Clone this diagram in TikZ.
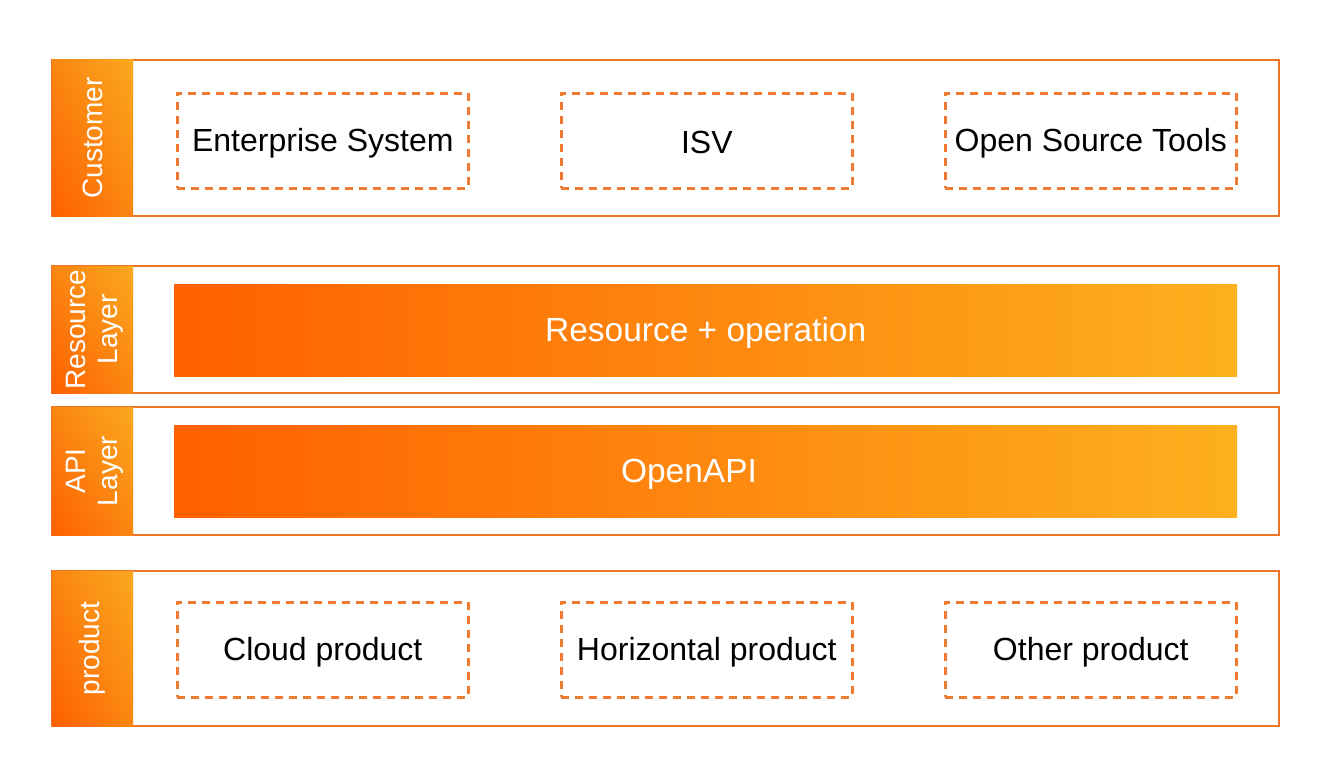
\documentclass[tikz,border=0pt]{standalone}
\usepackage{fontspec}
\setmainfont{Liberation Sans}
\usetikzlibrary{shadings}
\definecolor{frame}{HTML}{EE7428}
\definecolor{dash}{HTML}{EE7C30}
\definecolor{tagY}{HTML}{FBA81E}
\definecolor{tagM}{HTML}{FA8612}
\definecolor{tagO}{HTML}{FF6000}
\definecolor{barL}{HTML}{FF6000}
\definecolor{barR}{HTML}{FDB01E}
\begin{document}
\begin{tikzpicture}[x=1pt,y=-1pt,
  row/.style={draw=frame, line width=2.2pt, fill=white, rectangle, anchor=north west, inner sep=0pt, outer sep=0pt, minimum width=1227pt},
  tag/.style={rectangle, anchor=north west, inner sep=0pt, outer sep=0pt, minimum width=81pt, upper right=tagY, upper left=tagM, lower right=tagM, lower left=tagO},
  taglabel/.style={rotate=90, text=white, align=center, font=\fontsize{28}{32}\selectfont},
  dbox/.style={draw=dash, line width=2.6pt, dash pattern=on 8pt off 6pt, rectangle, anchor=north west, inner sep=0pt, minimum width=291pt, minimum height=95pt},
  dtext/.style={font=\fontsize{32}{38}\selectfont},
  bar/.style={rectangle, anchor=north west, inner sep=0pt, minimum width=1063pt, minimum height=92pt, left color=barL, right color=barR},
  bartext/.style={text=white, font=\fontsize{33.5}{38}\selectfont}
]
\useasboundingbox (0,0) rectangle (1344,784);

% Customer row
\node[row, minimum height=156pt] (r1) at (52,60) {};
\node[tag, minimum height=156pt] (t1) at (52,60) {};
\node[taglabel] (l1) at (t1.center) {Customer};
\node[dbox] (c1) at (176,92) {};
\node[dbox] (c2) at (560,92) {};
\node[dbox] (c3) at (944,92) {};
\node[dtext] (c1t) at ([yshift=-2pt]c1.center) {Enterprise System};
\node[dtext] (c2t) at ([yshift=-2pt]c2.center) {ISV};
\node[dtext] (c3t) at ([yshift=-2pt]c3.center) {Open Source Tools};

% Resource layer row
\node[row, minimum height=127pt] (r2) at (52,266) {};
\node[tag, minimum height=127pt] (t2) at (52,266) {};
\node[taglabel] (l2) at ([xshift=2pt]t2.center) {Resource\\Layer};
\node[bar] (b2) at (174,284) {};
\node[bartext] (b2t) at ([yshift=-3pt]b2.center) {Resource + operation};

% API layer row
\node[row, minimum height=128pt] (r3) at (52,407) {};
\node[tag, minimum height=128pt] (t3) at (52,407) {};
\node[taglabel] (l3) at ([xshift=2pt]t3.center) {API\\Layer};
\node[bar] (b3) at (174,425) {};
\node[bartext] (b3t) at (689,474) {OpenAPI};

% Product row
\node[row, minimum height=155pt] (r4) at (52,571) {};
\node[tag, minimum height=155pt] (t4) at (52,571) {};
\node[taglabel] (l4) at (t4.center) {product};
\node[dbox] (p1) at (176,601) {};
\node[dbox] (p2) at (560,601) {};
\node[dbox] (p3) at (944,601) {};
\node[dtext] (p1t) at ([yshift=-2pt]p1.center) {Cloud product};
\node[dtext] (p2t) at ([yshift=-2pt]p2.center) {Horizontal product};
\node[dtext] (p3t) at ([yshift=-2pt]p3.center) {Other product};
\end{tikzpicture}
\end{document}
